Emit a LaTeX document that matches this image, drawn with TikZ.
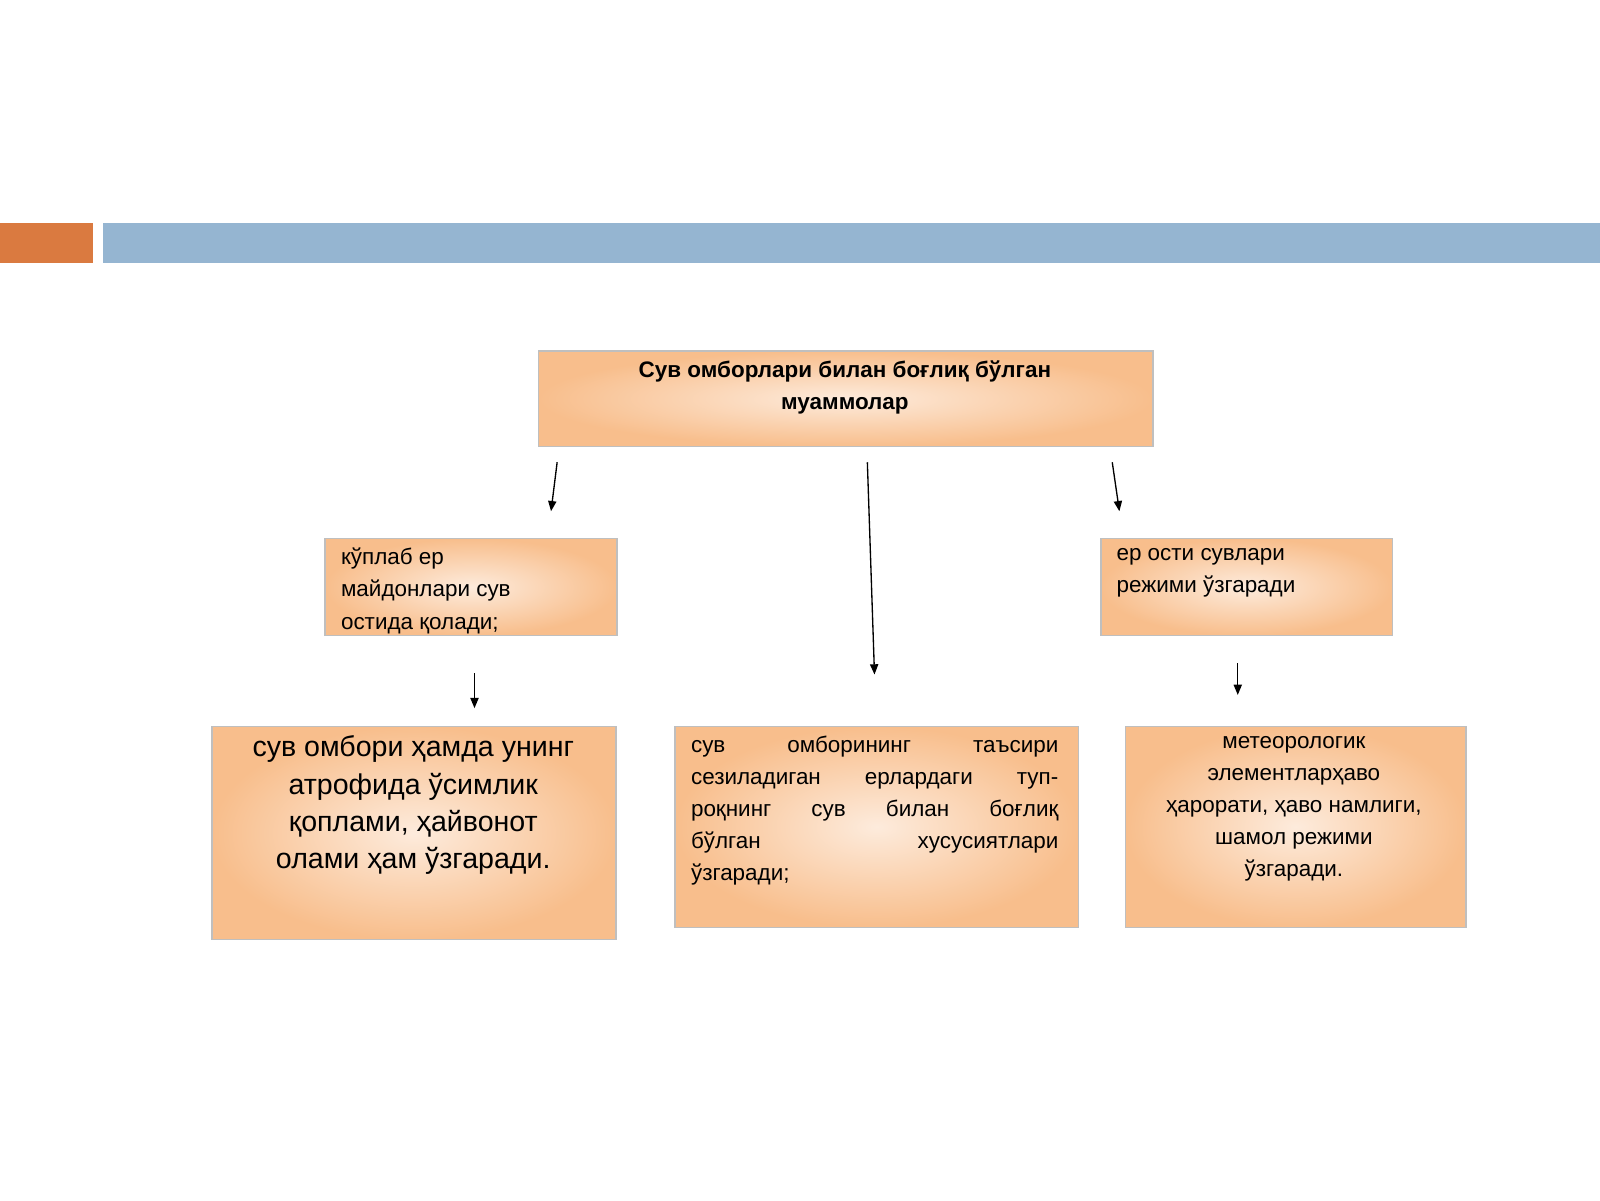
\documentclass[tikz,border=0pt]{standalone}
\usepackage{fontspec}
\setmainfont{Liberation Sans}
\usetikzlibrary{arrows.meta}
\definecolor{peach}{HTML}{F8BE8C}
\definecolor{peachlight}{HTML}{FDEBDC}
\definecolor{barorange}{HTML}{DA7A40}
\definecolor{barblue}{HTML}{95B5D1}
\tikzset{
 box/.style={draw=black!25,line width=1.5pt,inner color=peachlight,outer color=peach,
   rectangle,anchor=north west,inner sep=0pt},
 txt/.style={anchor=north west,inner sep=0pt,font=\fontsize{22}{31.5}\selectfont},
 arr/.style={-{Triangle[length=10pt,width=8pt]},line width=1.3pt}
}
\newcommand{\jl}[1]{\makebox[360pt][s]{#1}}
\begin{document}
\begin{tikzpicture}[x=1pt,y=-1pt]
\useasboundingbox[fill=white] (0,0) rectangle (1568,1176);
\fill[barorange] (0,219) rectangle (91,258);
\fill[barblue] (101,219) rectangle (1568,258);
% boxes
\node[box,minimum width=602pt,minimum height=94pt] (top) at (527,343) {};
\node[box,minimum width=286pt,minimum height=95pt] (ml) at (318,527) {};
\node[box,minimum width=286pt,minimum height=95pt] (mr) at (1078,527) {};
\node[box,minimum width=396pt,minimum height=209pt] (bl) at (207,711) {};
\node[box,minimum width=395pt,minimum height=197pt] (bm) at (661,711) {};
\node[box,minimum width=334pt,minimum height=197pt] (br) at (1102,711) {};
% texts
\node[txt,anchor=north,align=center,font=\bfseries\fontsize{22}{32}\selectfont] (ttop) at (828,353) {Сув омборлари билан боғлиқ бўлган\\муаммолар};
\node[txt,align=left] (tml) at (334,537) {кўплаб ер\\майдонлари сув\\остида қолади;};
\node[txt,align=left] (tmr) at (1094,537) {ер ости сувлари\\режими ўзгаради};
\node[txt,anchor=north,align=center,font=\fontsize{28}{36.5}\selectfont] (tbl) at (405,721) {сув омбори ҳамда унинг\\атрофида ўсимлик\\қоплами, ҳайвонот\\олами ҳам ўзгаради.};
\node[txt,align=left] (tbm) at (677,721) {\jl{сув\hfill омборининг\hfill таъсири}\\\jl{сезиладиган\hfill ерлардаги\hfill туп-}\\\jl{роқнинг\hfill сув\hfill билан\hfill боғлиқ}\\\jl{бўлган\hfill хусусиятлари}\\ўзгаради;};
\node[txt,anchor=north,align=center] (tbr) at (1268,721) {метеорологик\\элементларҳаво\\ҳарорати, ҳаво намлиги,\\шамол режими\\ўзгаради.};
% arrows
\coordinate (a1s) at (546,453); \coordinate (a1e) at (540,501);
\coordinate (a2s) at (850,453); \coordinate (a2e) at (857,661);
\coordinate (a3s) at (1090,453); \coordinate (a3e) at (1097,501);
\coordinate (a4s) at (465,660); \coordinate (a4e) at (465,694);
\coordinate (a5s) at (1213,650); \coordinate (a5e) at (1213,681);
\draw[arr] (a1s) -- (a1e);
\draw[arr] (a2s) -- (a2e);
\draw[arr] (a3s) -- (a3e);
\draw[arr] (a4s) -- (a4e);
\draw[arr] (a5s) -- (a5e);
\end{tikzpicture}
\end{document}
